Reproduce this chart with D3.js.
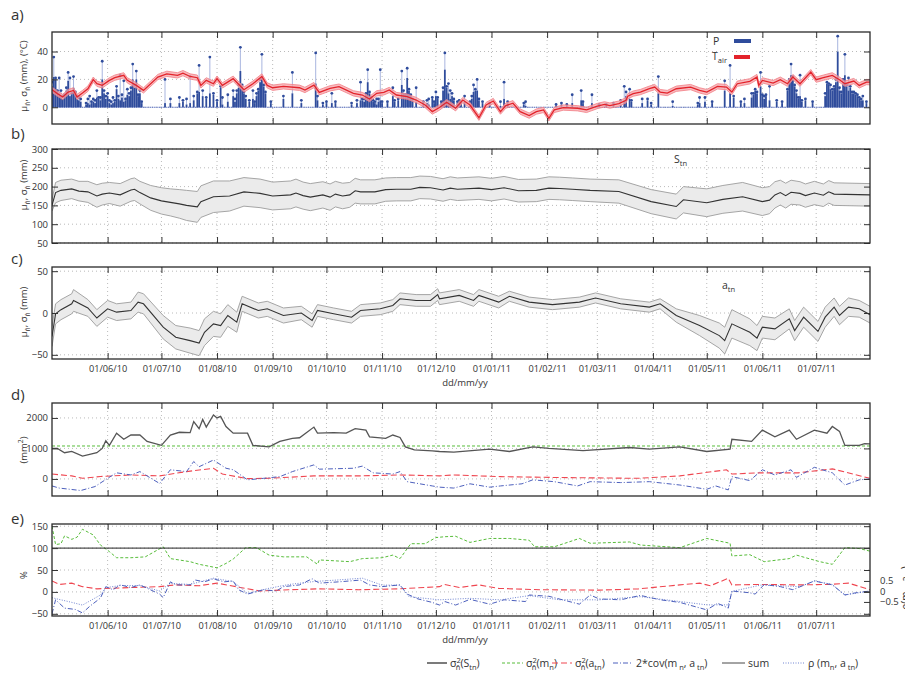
<!DOCTYPE html>
<html>
<head>
<meta charset="utf-8">
<script src="https://cdn.jsdelivr.net/npm/d3@7"></script>
<style>
  body { margin: 0; background: #fff; }
  text { font-family: "Open Sans", "DejaVu Sans", sans-serif; fill: #333; }
  .grid { stroke: #a8a8a8; stroke-width: 0.8; stroke-dasharray: 1 3; }
  .tick line { stroke: #333; stroke-width: 1; }
  .tick text { fill: #333; }
</style>
</head>
<body>
<svg id="chart" width="905" height="673"></svg>
<script>
// ---------- time axis ----------
// all series are indexed in days since 1 May 2010
const START = new Date(2010, 4, 1);
const END = new Date(2011, 6, 31);
const tickMonths = d3.timeMonth.range(new Date(2010, 5, 1), new Date(2011, 6, 2));

// ---------- a) precipitation [day, mean, upper] (mm) ----------
const precip = [
  [0,15,18],[1,21.7,36],[2,20,21],[3,12,12],[4,10,21],[5,8,12],[6,6,8],[7,8,9],[8,12,14],[9,19,25],[10,8,21],
  [11,9,10],[12,14,22],[13,10,11],[14,6,8],[15,5,7],[16,4,6],[19,2,3],[20,3,6],[21,2,8],[22,3,4],[23,4,6],
  [24,3,5],[25,7,12],[26,6,7],[27,5,7],[28,20,33],[29,10,12],[30,6,8],[31,8,10],[32,3,5],[33,2,4],[34,3,7],
  [35,4,5],[36,13,15],[37,6,8],[38,5,23],[39,7,9],[40,4,19],[41,5,6],[42,9,13],[43,8,10],[44,12,14],[45,20,31],
  [46,14,16],[47,20,26],[48,8,9],[49,10,12],[50,3,4],[63,3,20],[66,3,6],[71,3,7],
  [73,4,5],[75,2,6],[77,3,22],[79,5,8],[81,10,11],[82,11,30],[84,8,12],[86,6,7],[88,10,36],[90,9,10],
  [92,4,5],[94,14,15],[95,2,7],[98,4,9],[101,8,12],[102,4,6],[103,10,12],[104,14,16],[105,26,43],[106,15,16],
  [107,10,11],[108,6,8],[110,4,5],[112,6,12],[113,3,4],[114,8,10],[115,12,13],[116,18,20],[117,22,38],[118,15,16],
  [119,10,11],[122,3,4],[129,6,8],[134,10,25],[139,3,5],[147,17,39],[148,5,8],[151,2,3],[153,3,4],[156,3,10],
  [158,3,4],[167,2,3],[170,3,5],[172,5,18],[173,5,6],[174,4,6],[175,9,10],[176,18,27],[177,10,11],[178,6,7],
  [179,4,5],[180,3,4],[181,2,6],[182,4,6],[183,5,27],[184,3,4],
  [187,3,4],[190,8,14],[191,4,5],[193,5,6],[195,16,26],[196,10,12],[197,8,9],[198,21,28],[199,12,13],[200,8,9],
  [201,5,6],[203,4,14],[207,3,4],
  [209,3,5],[210,2,6],[212,6,7],[213,3,4],[214,8,11],[215,6,7],[217,3,4],[218,12,14],[219,27,39],[220,14,15],
  [221,10,17],[222,6,12],[223,8,10],[224,5,6],[226,3,4],
  [227,4,5],[228,3,4],[230,4,8],[233,1,4],[234,6,8],[235,11,16],[236,12,13],[237,12,20],[238,5,6],[240,3,4],
  [244,2,3],[250,1,4],
  [252,6,18],[254,3,4],[263,2,3],[264,1,4],[281,1,2],[284,2,3],[287,1,2],[290,3,9],[295,5,12],[296,3,4],
  [301,3,9],[305,1,2],[309,1,2],[313,2,3],[317,2,5],[319,5,15],[320,8,11],[322,6,13],[323,4,5],[329,3,6],
  [332,5,6],[334,2,3],[338,10,22],[346,1,4],[360,2,3],[361,3,7],[364,4,7],[368,3,4],[375,12,19],[378,10,30],
  [380,7,8],[384,3,4],[386,3,6],[390,7,10],[391,9,10],[392,12,13],[393,10,11],[395,15,25],[396,8,9],[397,6,8],
  [398,8,9],[400,5,15],[404,4,5],[407,3,4],
  [410,12,13],[411,18,20],[412,23,31],[413,20,22],[414,15,16],[415,10,12],[416,6,7],[417,8,23],[418,4,5],
  [420,5,6],[424,3,4],[431,8,10],[432,17,18],[433,16,17],[434,13,16],[435,12,13],[436,14,15],[437,18,20],
  [438,40,51],[439,12,14],[440,10,11],[441,18,20],[442,23,38],[443,15,16],[444,12,21],[445,14,15],[446,10,11],
  [447,10,11],[448,9,10],[449,8,9],[450,6,7],[451,5,6],[452,5,8],[454,3,4]
];

// ---------- a) air temperature mean [day, °C] and its spread ----------
const tairMean = [
  [0,12.6],[3,9.8],[6,7.4],[9,10.9],[12,12.1],[14,7.4],[17,10.2],[20,13.3],[23,19.8],[25,16.9],
  [28,15.7],[32,19.3],[35,21.2],[40,22.9],[42,19.3],[47,15.7],[51,12.1],[59,21.7],[64,24.0],[70,22.9],
  [73,24.5],[77,22.1],[81,21.2],[83,15.7],[86,19.3],[90,16.9],[92,20.5],[95,15.7],[101,20.5],[107,12.6],
  [112,16.9],[117,22.1],[120,15.7],[123,14.0],[129,15.0],[138,14.0],[141,12.4],[146,15.9],[149,10.7],[155,13.6],
  [160,14.8],[168,10.0],[173,8.8],[177,5.9],[181,10.0],[185,10.7],[188,12.4],[192,8.8],[198,7.6],[203,5.2],
  [208,1.6],[212,-3.1],[216,-0.2],[220,3.6],[225,-0.7],[229,5.2],[233,1.6],[238,-7.5],[242,1.6],[246,4.5],
  [250,-3.1],[253,1.2],[257,2.9],[261,-3.1],[266,-6.0],[270,-3.1],[274,-1.9],[277,-7.9],[280,-1.9],[285,-0.2],
  [293,-0.7],[298,-1.9],[304,0.9],[308,2.1],[311,1.2],[316,2.6],[320,5.0],[321,7.9],[324,9.8],[328,10.9],
  [333,13.3],[336,14.5],[339,10.9],[343,10.2],[348,13.3],[356,14.5],[361,12.1],[365,10.9],[371,15.0],[376,14.5],
  [379,10.9],[382,16.9],[389,18.6],[393,21.7],[394,15.7],[396,19.3],[402,17.4],[406,19.8],[410,16.9],[413,21.7],
  [417,16.9],[423,25.2],[426,19.8],[430,21.2],[435,22.9],[439,19.8],[442,16.9],[447,18.8],[450,15.7],[454,18.1],[456,18.0]
];
const tairSd = 1.9;

// ---------- b) S_tn [day, mean, sd] (mm) ----------
const sTn = [
  [0,150,15],[2,184,27],[5,190,27],[11,194,26],[15,188,26],[20,186,28],[25,175,30],[28,180,29],[32,183,28],
  [38,178,30],[44,191,30],[46,193,30],[49,184,30],[55,170,33],[61,162,35],[66,158,36],[71,154,38],[75,150,40],
  [81,146,41],[83,160,42],[90,173,42],[99,175,40],[107,186,38],[116,182,38],[123,175,37],[133,178,37],
  [136,183,37],[140,176,36],[144,172,36],[151,178,35],[155,172,35],[158,180,34],[162,175,34],[166,178,33],
  [169,189,33],[172,186,32],[180,186,32],[186,192,31],[192,193,31],[200,193,31],[205,198,30],[211,197,30],
  [218,191,30],[222,196,30],[226,193,30],[238,196,30],[245,192,30],[252,197,30],[260,189,30],[270,190,30],
  [277,196,30],[283,195,30],[290,193,30],[300,190,30],[316,187,31],[334,160,32],[348,147,33],[352,165,35],
  [365,157,37],[374,166,37],[385,173,38],[396,160,37],[400,164,36],[403,178,35],[406,184,33],[409,176,33],
  [412,185,32],[417,182,31],[420,176,31],[425,183,31],[430,177,30],[433,186,30],[436,180,30],[456,178,30]
];

// ---------- c) a_tn [day, mean, sd] (mm) ----------
const aTn = [
  [0,-28,12],[2,-1,12],[5,4,12],[11,11,12],[12,15,13],[20,6,10],[25,-6,10],[31,5,10],[36,1,10],[44,3,10],
  [48,13,12],[51,11,12],[62,-17,14],[69,-29,14],[77,-33,15],[82,-36,15],[85,-23,16],[90,-13,15],[94,-15,14],
  [98,-3,13],[103,-11,12],[106,11,9],[115,3,9],[120,5,9],[129,-3,9],[139,0,8],[145,-9,8],[148,3,7],[157,-1,7],
  [167,-5,7],[172,3,7],[183,5,7],[190,9,7],[194,17,7],[203,15,7],[211,15,7],[215,22,7],[216,17,7],[227,21,7],
  [235,15,7],[238,21,7],[249,13,7],[255,20,6],[266,13,6],[279,10,6],[294,13,6],[303,18,6],[317,11,6],[333,7,6],
  [339,11,6],[348,-3,8],[361,-15,12],[372,-27,15],[375,-33,16],[379,-13,17],[389,-23,16],[393,-30,15],[396,-17,13],
  [403,-19,13],[411,-7,12],[414,-21,12],[419,-5,12],[427,-22,12],[431,-5,12],[436,7,11],[439,-3,11],[444,7,11],
  [450,5,10],[456,-2,10]
];

// ---------- d) variance terms (mm²) ----------
const varSum = [
  [0,1000],[3,1000],[7,860],[11,900],[17,750],[25,860],[28,1000],[30,1250],[32,1100],[36,1500],[40,1300],
  [44,1440],[49,1440],[53,1230],[61,1100],[66,1440],[71,1530],[77,1520],[79,1880],[82,1650],[84,1950],[86,1700],
  [90,2100],[92,2000],[94,2050],[97,1720],[101,1500],[109,1500],[112,1100],[121,1050],[127,1230],[134,1330],
  [138,1350],[146,1700],[148,1500],[157,1520],[164,1500],[169,1650],[175,1600],[177,1380],[186,1330],[190,1440],
  [194,1360],[197,1050],[202,950],[212,920],[216,900],[224,880],[244,980],[255,900],[268,1050],[277,1000],
  [296,930],[322,1030],[333,980],[350,1050],[365,900],[378,980],[379,1300],[390,1230],[396,1600],[403,1380],
  [411,1600],[415,1300],[425,1600],[432,1500],[435,1720],[439,1560],[442,1100],[450,1100],[453,1160],[456,1150]
];
const varM = 1080;
const varA = [
  [0,160],[11,100],[17,20],[27,80],[44,130],[60,100],[75,240],[90,350],[95,160],[109,10],[121,20],[146,100],
  [172,100],[194,130],[216,100],[224,130],[250,75],[283,45],[327,20],[350,100],[376,300],[379,160],[394,200],
  [416,200],[435,330],[456,20]
];
const cov2 = [
  [0,-230],[4,-300],[16,-380],[24,-250],[31,20],[36,200],[44,130],[49,240],[60,-150],[66,300],[75,240],[79,570],
  [82,400],[90,620],[97,350],[101,300],[109,-30],[118,20],[127,75],[134,240],[146,460],[149,320],[168,350],
  [173,420],[179,200],[190,160],[194,240],[198,-90],[212,-230],[216,-270],[224,-300],[233,-160],[244,-270],
  [250,-230],[262,-160],[268,-30],[280,-90],[293,-230],[300,-90],[317,-120],[333,-90],[350,-200],[365,-340],
  [370,-230],[377,-360],[379,75],[389,-55],[396,300],[403,130],[412,300],[415,50],[425,380],[435,200],[442,-200],
  [450,-30],[456,0]
];

// ---------- e) shares of the total variance (%) and correlation ----------
const pctSum = 100;
const pctM = [
  [0,150],[2,108],[5,110],[7,128],[11,120],[14,125],[17,143],[23,130],[27,107],[32,92],[36,78],[44,78],[52,80],
  [62,103],[66,76],[77,69],[82,63],[92,55],[97,65],[101,75],[108,101],[114,101],[121,84],[129,80],[142,80],
  [148,63],[149,73],[166,69],[173,76],[184,78],[190,84],[194,76],[200,110],[208,110],[214,124],[219,126],
  [225,127],[233,113],[244,122],[255,122],[266,118],[269,103],[280,103],[294,122],[300,111],[322,114],[328,107],
  [350,101],[365,122],[378,111],[379,82],[389,85],[397,69],[411,76],[415,84],[428,69],[435,63],[442,101],
  [450,99],[456,93]
];
const pctA = [
  [0,25],[4,17],[11,20],[17,12],[25,7],[44,10],[60,12],[69,16],[82,14],[92,20],[105,10],[116,2],[132,5],[149,7],
  [171,5],[194,7],[216,12],[219,17],[227,10],[238,16],[249,8],[272,5],[305,4],[327,7],[350,16],[361,20],[367,14],
  [377,31],[379,16],[395,17],[417,16],[433,17],[444,20],[456,5]
];
const pctCov = [
  [0,-50],[2,-18],[7,-37],[13,-40],[17,-48],[21,-33],[27,-14],[30,12],[34,5],[38,16],[44,10],[49,16],[60,-5],
  [62,-13],[66,23],[69,16],[77,16],[80,27],[85,23],[90,30],[96,23],[101,25],[104,5],[109,-5],[118,5],[125,2],
  [129,12],[138,16],[145,30],[149,20],[160,23],[172,27],[177,16],[184,12],[194,16],[198,-5],[204,-16],[212,-24],
  [216,-30],[219,-22],[225,-30],[233,-17],[244,-28],[252,-18],[264,-22],[266,-7],[277,-10],[294,-28],[300,-7],
  [305,-16],[317,-18],[328,-8],[339,-18],[350,-24],[365,-41],[371,-26],[377,-37],[379,2],[389,-2],[392,-5],
  [397,17],[406,12],[413,5],[425,25],[435,16],[442,-7],[448,-2],[456,2]
];
const rho = [
  [0,-0.3],[10,-0.5],[17,-0.65],[27,-0.17],[30,0.18],[38,0.28],[49,0.28],[60,0.02],[66,0.39],[77,0.33],
  [90,0.63],[101,0.47],[109,-0.09],[121,0.15],[132,0.33],[146,0.47],[160,0.55],[173,0.63],[184,0.3],[194,0.3],
  [199,-0.25],[216,-0.4],[233,-0.33],[250,-0.4],[266,-0.2],[283,-0.4],[305,-0.4],[328,-0.25],[350,-0.48],
  [365,-0.64],[377,-0.64],[379,0.0],[395,0.3],[417,0.23],[425,0.5],[435,0.33],[442,-0.17],[456,0.02]
];

// ---------- layout ----------
const svg = d3.select('#chart');
const L = 52, R = 870;
const x = d3.scaleTime().domain([START, END]).range([L, R]);
const dayDate = d => d3.timeDay.offset(START, d);
const fmt = d3.timeFormat('%d/%m/%y');

const C = {
  frame: '#2a2a2a', blue: '#2f4c9c', stem: '#a8b5df', red: '#e3232b', pink: '#f6a4aa',
  band: '#ebebeb', bandEdge: '#9c9c9c', mean: '#333', green: '#58bd3b', redDash: '#ef4650',
  covBlue: '#4d60bd', rhoBlue: '#7185d2', sum: '#555'
};

function rich(t, parts, size) {
  let cur = 0;
  parts.forEach(([s, kind, dx]) => {
    const target = kind === 'sup' ? -0.38 * size : kind === 'sub' ? 0.3 * size : 0;
    const ts = t.append('tspan').text(s).attr('dy', target - cur);
    if (kind) ts.attr('font-size', size * 0.72);
    if (dx) ts.attr('dx', dx);
    cur = target;
  });
  return t;
}

let clipId = 0;
function panel(top, bottom, domain, yTicks, opts = {}) {
  const y = d3.scaleLinear().domain(domain).range([bottom, top]);
  const grid = svg.append('g');
  grid.selectAll('line.v').data(tickMonths).join('line').attr('class', 'grid v')
    .attr('x1', d => x(d)).attr('x2', d => x(d)).attr('y1', top).attr('y2', bottom);
  grid.selectAll('line.h').data(yTicks).join('line').attr('class', 'grid h')
    .attr('x1', L).attr('x2', R).attr('y1', d => y(d)).attr('y2', d => y(d));
  const id = 'clip' + (clipId++);
  svg.append('clipPath').attr('id', id).append('rect')
    .attr('x', L).attr('y', top).attr('width', R - L).attr('height', bottom - top);
  const plot = svg.append('g').attr('clip-path', `url(#${id})`);
  const deco = () => {
    const strip = s => s.select('.domain').remove();
    svg.append('g').attr('transform', `translate(0,${bottom})`)
      .call(d3.axisBottom(x).tickValues(tickMonths).tickSize(-6).tickPadding(6)
        .tickFormat(opts.xLabels ? fmt : () => ''))
      .call(strip).call(s => s.selectAll('text').attr('font-size', 9.2)
        .style('font-family', '"Liberation Sans Narrow","Open Sans",sans-serif'));
    svg.append('g').attr('transform', `translate(0,${top})`)
      .call(d3.axisTop(x).tickValues(tickMonths).tickSize(-6).tickFormat(() => '')).call(strip);
    svg.append('g').attr('transform', `translate(${L},0)`)
      .call(d3.axisLeft(y).tickValues(yTicks).tickSize(-6).tickPadding(4).tickFormat(d3.format('d')))
      .call(strip).call(s => s.selectAll('text').attr('font-size', 9.5));
    svg.append('g').attr('transform', `translate(${R},0)`)
      .call(d3.axisRight(y).tickValues(yTicks).tickSize(-6).tickFormat(() => '')).call(strip);
    svg.append('rect').attr('x', L).attr('y', top).attr('width', R - L).attr('height', bottom - top)
      .attr('fill', 'none').attr('stroke', C.frame).attr('stroke-width', 1.3);
  };
  return { y, plot, deco, top, bottom };
}

function bandArea(y) {
  return d3.area().x(d => x(dayDate(d[0]))).y0(d => y(d[1] - d[2])).y1(d => y(d[1] + d[2]));
}
function path(y) {
  return d3.line().x(d => x(dayDate(d[0]))).y(d => y(d[1]));
}
function drawBand(p, data) {
  const y = p.y;
  p.plot.append('path').attr('d', bandArea(y)(data)).attr('fill', C.band);
  p.plot.append('path').attr('d', path(y)(data.map(d => [d[0], d[1] + d[2]])))
    .attr('fill', 'none').attr('stroke', C.bandEdge).attr('stroke-width', 0.9);
  p.plot.append('path').attr('d', path(y)(data.map(d => [d[0], d[1] - d[2]])))
    .attr('fill', 'none').attr('stroke', C.bandEdge).attr('stroke-width', 0.9);
  p.plot.append('path').attr('d', path(y)(data)).attr('fill', 'none').attr('stroke', C.mean).attr('stroke-width', 1.1);
}

// ---------- a) ----------
{
  const p = panel(32, 124, [-12, 54], [0, 20, 40]);
  const y = p.y;
  const dayW = x(dayDate(1)) - x(dayDate(0));
  const allDays = d3.timeDay.range(START, END);
  p.plot.append('g').selectAll('rect').data(allDays).join('rect')
    .attr('x', d => x(d) - 0.6).attr('y', y(0.4)).attr('width', 1.2).attr('height', 1.2)
    .attr('fill', '#6d80c6');
  p.plot.append('g').selectAll('line').data(precip).join('line')
    .attr('x1', d => x(dayDate(d[0]))).attr('x2', d => x(dayDate(d[0])))
    .attr('y1', d => y(d[1])).attr('y2', d => y(d[2]))
    .attr('stroke', C.stem).attr('stroke-width', 1);
  p.plot.append('g').selectAll('rect').data(precip).join('rect')
    .attr('x', d => x(dayDate(d[0])) - dayW / 2).attr('width', dayW)
    .attr('y', d => y(d[1])).attr('height', d => y(0) - y(d[1]))
    .attr('fill', C.blue);
  p.plot.append('g').selectAll('circle').data(precip).join('circle')
    .attr('cx', d => x(dayDate(d[0]))).attr('cy', d => y(d[2])).attr('r', 1.4)
    .attr('fill', C.blue);
  const tBand = tairMean.map(d => [d[0], d[1], tairSd]);
  p.plot.append('path').attr('d', bandArea(y)(tBand)).attr('fill', C.pink).attr('opacity', 0.75);
  p.plot.append('path').attr('d', path(y)(tBand.map(d => [d[0], d[1] + d[2]])))
    .attr('fill', 'none').attr('stroke', '#f27d85').attr('stroke-width', 0.8);
  p.plot.append('path').attr('d', path(y)(tBand.map(d => [d[0], d[1] - d[2]])))
    .attr('fill', 'none').attr('stroke', '#f27d85').attr('stroke-width', 0.8);
  p.plot.append('path').attr('d', path(y)(tairMean))
    .attr('fill', 'none').attr('stroke', C.red).attr('stroke-width', 1.3);
  p.deco();
  // legend
  svg.append('text').attr('x', 713).attr('y', 45).attr('font-size', 10.5).text('P');
  svg.append('rect').attr('x', 734).attr('y', 39).attr('width', 17).attr('height', 4).attr('fill', C.blue);
  rich(svg.append('text').attr('x', 712).attr('y', 60).attr('font-size', 10.5), [['T'], ['air', 'sub']], 10.5);
  svg.append('rect').attr('x', 734).attr('y', 55).attr('width', 16).attr('height', 4).attr('fill', C.red);
}

// ---------- b) ----------
{
  const p = panel(149, 243, [50, 300], [50, 100, 150, 200, 250, 300]);
  drawBand(p, sTn);
  p.deco();
  rich(svg.append('text').attr('x', 674).attr('y', 163).attr('font-size', 10.5), [['S'], ['tn', 'sub']], 10.5);
}

// ---------- c) ----------
{
  const p = panel(267, 359, [-55, 55], [-50, 0, 50], { xLabels: true });
  drawBand(p, aTn);
  p.deco();
  rich(svg.append('text').attr('x', 722).attr('y', 289).attr('font-size', 10.5), [['a'], ['tn', 'sub']], 10.5);
  svg.append('text').attr('x', 465).attr('y', 386).attr('text-anchor', 'middle').attr('font-size', 9.5).text('dd/mm/yy');
}

// ---------- d) ----------
{
  const p = panel(403, 496, [-560, 2490], [0, 1000, 2000]);
  const y = p.y;
  p.plot.append('path').attr('d', path(y)([[0, varM], [456, varM]]))
    .attr('fill', 'none').attr('stroke', C.green).attr('stroke-width', 1).attr('stroke-dasharray', '3 2');
  p.plot.append('path').attr('d', path(y)(varA))
    .attr('fill', 'none').attr('stroke', C.redDash).attr('stroke-width', 1.1).attr('stroke-dasharray', '6 3');
  p.plot.append('path').attr('d', path(y)(cov2))
    .attr('fill', 'none').attr('stroke', C.covBlue).attr('stroke-width', 1).attr('stroke-dasharray', '5 2 1 2');
  p.plot.append('path').attr('d', path(y)(varSum))
    .attr('fill', 'none').attr('stroke', C.sum).attr('stroke-width', 1.3);
  p.deco();
}

// ---------- e) ----------
{
  const p = panel(524, 616, [-55, 155], [-50, 0, 50, 100, 150], { xLabels: true });
  const y = p.y;
  const yRho = d3.scaleLinear().domain([-1.17, 3.21]).range([616, 524]);
  p.plot.append('path').attr('d', path(y)(pctM))
    .attr('fill', 'none').attr('stroke', C.green).attr('stroke-width', 1).attr('stroke-dasharray', '3 2');
  p.plot.append('path').attr('d', path(y)(pctA))
    .attr('fill', 'none').attr('stroke', C.redDash).attr('stroke-width', 1.1).attr('stroke-dasharray', '6 3');
  p.plot.append('path').attr('d', path(yRho)(rho))
    .attr('fill', 'none').attr('stroke', C.rhoBlue).attr('stroke-width', 1).attr('stroke-dasharray', '1 1.5');
  p.plot.append('path').attr('d', path(y)(pctCov))
    .attr('fill', 'none').attr('stroke', C.covBlue).attr('stroke-width', 1).attr('stroke-dasharray', '5 2 1 2');
  p.plot.append('path').attr('d', path(y)([[0, pctSum], [456, pctSum]]))
    .attr('fill', 'none').attr('stroke', '#222').attr('stroke-width', 1);
  p.deco();
  svg.append('g').attr('transform', `translate(${R},0)`)
    .call(d3.axisRight(yRho).tickValues([-0.5, 0, 0.5]).tickSize(-6).tickPadding(10)
      .tickFormat(d => d === 0 ? '0' : d3.format('.1f')(d).replace('-', '\u2212')))
    .call(s => s.select('.domain').remove())
    .call(s => s.selectAll('text').attr('font-size', 9.5));
  // right-hand title runs past the page edge
  const rl = svg.append('text').attr('transform', 'translate(909,588) rotate(-90)')
    .attr('text-anchor', 'middle').attr('font-size', 10);
  rich(rl, [['\u03c1(m'], ['n', 'sub'], [', a'], ['tn', 'sub'], [')']], 10);
  svg.append('text').attr('x', 465).attr('y', 643).attr('text-anchor', 'middle').attr('font-size', 9.5).text('dd/mm/yy');
}

// ---------- panel letters and y titles ----------
[['a)', 20], ['b)', 139], ['c)', 264], ['d)', 400], ['e)', 524]].forEach(([s, yy]) =>
  svg.append('text').attr('x', 11).attr('y', yy).attr('font-size', 15).text(s));

const muSigma = [['\u03bc'], ['n\u0302', 'sub'], [', \u03c3'], ['n\u0302', 'sub']];
rich(svg.append('text').attr('transform', 'translate(27,76) rotate(-90)').attr('text-anchor', 'middle').attr('font-size', 9.5),
  muSigma.concat([[' (mm), (\u00b0C)']]), 9.5);
rich(svg.append('text').attr('transform', 'translate(27,185) rotate(-90)').attr('text-anchor', 'middle').attr('font-size', 9.5),
  muSigma.concat([[' (mm)']]), 9.5);
rich(svg.append('text').attr('transform', 'translate(27,312) rotate(-90)').attr('text-anchor', 'middle').attr('font-size', 9.5),
  muSigma.concat([[' (mm)']]), 9.5);
rich(svg.append('text').attr('transform', 'translate(27,450) rotate(-90)').attr('text-anchor', 'middle').attr('font-size', 9.5),
  [['(mm'], ['2', 'sup'], [')']], 9.5);
svg.append('text').attr('transform', 'translate(27,575) rotate(-90)').attr('text-anchor', 'middle').attr('font-size', 9.5).text('%');

// ---------- bottom legend ----------
{
  const ly = 663;
  const items = [
    { x1: 427, x2: 447, stroke: '#222', dash: null, w: 1.2,
      parts: [['\u03c3'], ['2', 'sup'], ['n\u0302', 'sub', -5], ['(S'], ['tn', 'sub'], [')']] },
    { x1: 502, x2: 523, stroke: C.green, dash: '3 2', w: 1,
      parts: [['\u03c3'], ['2', 'sup'], ['n\u0302', 'sub', -5], ['(m'], ['n', 'sub'], [')']] },
    { x1: 552, x2: 572, stroke: C.redDash, dash: '6 3', w: 1.1,
      parts: [['\u03c3'], ['2', 'sup'], ['n\u0302', 'sub', -5], ['(a'], ['tn', 'sub'], [')']] },
    { x1: 613, x2: 633, stroke: C.covBlue, dash: '5 2 1 2', w: 1,
      parts: [['2*cov(m'], [' n', 'sub'], [', a'], [' tn', 'sub'], [')']] },
    { x1: 722, x2: 745, stroke: '#333', dash: null, w: 0.9, parts: [['sum']] },
    { x1: 783, x2: 805, stroke: C.rhoBlue, dash: '1 1.5', w: 1,
      parts: [['\u03c1 (m'], ['n', 'sub'], [', a'], [' tn', 'sub'], [')']] }
  ];
  items.forEach(it => {
    const l = svg.append('line').attr('x1', it.x1).attr('x2', it.x2).attr('y1', ly).attr('y2', ly)
      .attr('stroke', it.stroke).attr('stroke-width', it.w);
    if (it.dash) l.attr('stroke-dasharray', it.dash);
    rich(svg.append('text').attr('x', it.x2 + 3).attr('y', ly + 4).attr('font-size', 10.5), it.parts, 10.5);
  });
}
</script>
</body>
</html>
